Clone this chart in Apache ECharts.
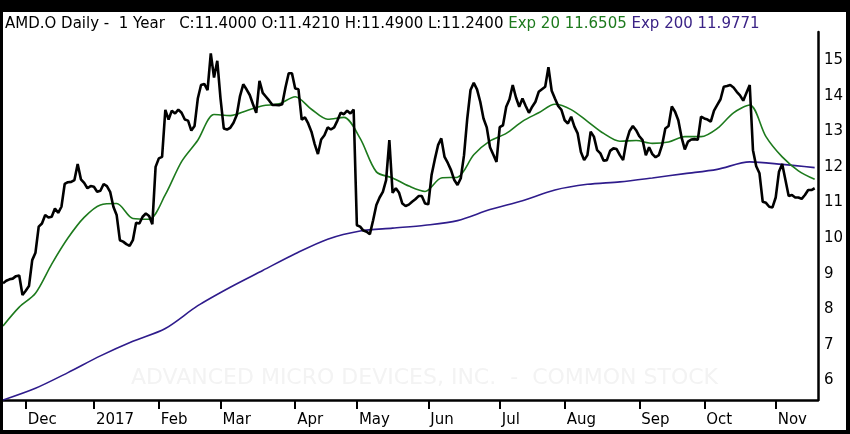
<!DOCTYPE html>
<html>
<head>
<meta charset="utf-8">
<script src="https://cdn.jsdelivr.net/npm/echarts@6/dist/echarts.min.js"></script>
<style>
html,body{margin:0;padding:0;background:#000;width:850px;height:434px;overflow:hidden;}
#chart{position:absolute;left:3px;top:12px;width:843px;height:418px;background:#fff;}
</style>
</head>
<body>
<div id="chart"></div>
<script>
// Trading calendar (month key + trading days)
const months = ['2016-11','2016-12','2017-01','2017-02','2017-03','2017-04','2017-05','2017-06','2017-07','2017-08','2017-09','2017-10','2017-11'];
const monthDays = [
  [21,22,23,25,28,29,30],
  [1,2,5,6,7,8,9,12,13,14,15,16,19,20,21,22,23,27,28,29,30],
  [3,4,5,6,9,10,11,12,13,17,18,19,20,23,24,25,26,27,30,31],
  [1,2,3,6,7,8,9,10,13,14,15,16,17,21,22,23,24,27,28],
  [1,2,3,6,7,8,9,10,13,14,15,16,17,20,21,22,23,24,27,28,29,30,31],
  [3,4,5,6,7,10,11,12,13,17,18,19,20,21,24,25,26,27,28],
  [1,2,3,4,5,8,9,10,11,12,15,16,17,18,19,22,23,24,25,26,30,31],
  [1,2,5,6,7,8,9,12,13,14,15,16,19,20,21,22,23,26,27,28,29,30],
  [3,5,6,7,10,11,12,13,14,17,18,19,20,21,24,25,26,27,28,31],
  [1,2,3,4,7,8,9,10,11,14,15,16,17,18,21,22,23,24,25,28,29,30,31],
  [1,5,6,7,8,11,12,13,14,15,18,19,20,21,22,25,26,27,28,29],
  [2,3,4,5,6,9,10,11,12,13,16,17,18,19,20,23,24,25,26,27,30,31],
  [1,2,3,6,7,8,9,10,13,14,15,16,17,20]
];
const monthTickLabels = ['', 'Dec', '2017', 'Feb', 'Mar', 'Apr', 'May', 'Jun', 'Jul', 'Aug', 'Sep', 'Oct', 'Nov'];

// Daily close
const close = [
  8.73,8.80,8.84,8.86,8.93,8.95,8.40,8.52,8.65,9.38,
  9.59,10.32,10.41,10.65,10.58,10.60,10.83,10.71,10.88,11.52,
  11.57,11.58,11.63,12.08,11.65,11.55,11.40,11.46,11.44,11.30,
  11.33,11.52,11.46,11.30,10.88,10.65,9.94,9.90,9.83,9.78,
  9.94,10.43,10.41,10.60,10.69,10.62,10.39,12.00,12.24,12.28,
  13.60,13.33,13.58,13.50,13.61,13.52,13.33,13.30,13.02,13.15,
  13.92,14.30,14.33,14.16,15.19,14.51,14.98,13.92,13.08,13.05,
  13.10,13.24,13.46,13.99,14.32,14.18,14.02,13.76,13.52,14.42,
  14.08,13.97,13.86,13.74,13.74,13.73,13.76,14.23,14.63,14.63,
  14.20,14.18,13.33,13.39,13.22,12.99,12.64,12.36,12.77,12.89,
  13.11,13.05,13.11,13.30,13.52,13.48,13.58,13.50,13.61,10.36,
  10.32,10.21,10.18,10.11,10.50,10.93,11.14,11.30,11.63,12.75,
  11.27,11.40,11.27,10.97,10.90,10.94,11.02,11.09,11.18,11.18,
  10.97,10.95,11.77,12.21,12.61,12.80,12.28,12.11,11.91,11.63,
  11.49,11.68,12.33,13.36,14.16,14.36,14.18,13.83,13.36,13.11,
  12.55,12.35,12.14,13.12,13.17,13.69,13.90,14.30,13.95,13.69,
  13.92,13.71,13.52,13.69,13.83,14.11,14.18,14.25,14.80,14.14,
  13.92,13.71,13.60,13.31,13.22,13.41,13.13,12.94,12.42,12.19,
  12.33,12.99,12.85,12.47,12.38,12.17,12.19,12.45,12.52,12.50,
  12.33,12.19,12.71,13.01,13.15,13.03,12.86,12.75,12.33,12.55,
  12.36,12.27,12.33,12.61,13.08,13.15,13.70,13.55,13.31,12.83,
  12.49,12.71,12.77,12.78,12.76,13.41,13.36,13.33,13.27,13.58,
  13.74,13.90,14.25,14.27,14.30,14.23,14.11,14.01,13.86,14.08,
  14.30,12.47,12.02,11.82,11.02,10.99,10.88,10.86,11.14,11.86,
  12.08,11.63,11.18,11.21,11.14,11.14,11.10,11.21,11.35,11.35,
  11.40
];

// Exponential moving averages (every ema20Step / ema200Step trading days)
const ema20Step = 5;
const ema20 = [
  7.53,8.06,8.45,9.27,10.00,10.58,10.93,10.97,10.55,10.53,
  11.22,12.15,12.75,13.47,13.44,13.58,13.72,13.77,13.97,13.62,
  13.34,13.39,12.80,11.86,11.69,11.46,11.31,11.69,11.71,12.34,
  12.73,12.94,13.28,13.52,13.76,13.61,13.28,12.94,12.72,12.74,
  12.66,12.70,12.85,12.85,13.08,13.52,13.74,12.85,12.28,11.89,
  11.65
];
const ema200Step = 10;
const ema200 = [
  5.45,5.78,6.22,6.69,7.10,7.46,8.10,8.62,9.09,9.56,
  9.97,10.20,10.28,10.36,10.49,10.80,11.05,11.35,11.51,11.58,
  11.69,11.81,11.93,12.14,12.07,11.98
];

const yTickValues = [6,7,8,9,10,11,12,13,14,15];
const headerMain = 'AMD.O Daily -  1 Year   C:11.4000 O:11.4210 H:11.4900 L:11.2400 ';
const headerEma20 = 'Exp 20 11.6505 ';
const headerEma200 = 'Exp 200 11.9771';
const watermark = 'ADVANCED MICRO DEVICES, INC.  -  COMMON STOCK';

// build categories
const categories = [];
const tickLabelAt = {};
months.forEach(function (m, mi) {
  monthDays[mi].forEach(function (d, di) {
    if (di === 0 && monthTickLabels[mi]) tickLabelAt[categories.length] = monthTickLabels[mi];
    categories.push(m + '-' + (d < 10 ? '0' + d : d));
  });
});
const isTick = function (idx) { return tickLabelAt[idx] !== undefined; };

const FONT = 'DejaVu Sans';
const GREEN = '#1d7a1d';
const PURPLE = '#2f1c8c';

const chart = echarts.init(document.getElementById('chart'), null, {renderer: 'canvas'});
chart.setOption({
  animation: false,
  backgroundColor: '#fff',
  title: {
    left: 2, top: 5, padding: 0,
    text: '{k|' + headerMain + '}{g|' + headerEma20 + '}{p|' + headerEma200 + '}',
    textStyle: {
      fontWeight: 'normal', fontFamily: FONT, fontSize: 15,
      rich: {
        k: {fontFamily: FONT, fontSize: 15, fontWeight: 'normal', color: '#000'},
        g: {fontFamily: FONT, fontSize: 15, fontWeight: 'normal', color: GREEN},
        p: {fontFamily: FONT, fontSize: 15, fontWeight: 'normal', color: '#3b2386'}
      }
    }
  },
  graphic: [{
    type: 'text', left: 'center', top: 355, silent: true, z: -1,
    style: {text: watermark, fontFamily: FONT, fontSize: 22, fill: '#f3f3f3'}
  }],
  grid: {left: 0, right: 25, top: 20, bottom: 30},
  xAxis: {
    type: 'category', data: categories, boundaryGap: false,
    axisLine: {lineStyle: {color: '#000', width: 2.5}},
    axisTick: {interval: function (i) { return isTick(i); }, length: 9, lineStyle: {color: '#000', width: 2}},
    axisLabel: {
      interval: function (i) { return isTick(i); },
      formatter: function (v, i) { return tickLabelAt[i] || ''; },
      align: 'left', padding: [0, 0, 0, 2], margin: 13,
      fontFamily: FONT, fontSize: 15, color: '#000'
    },
    splitLine: {show: false}
  },
  yAxis: {
    type: 'value', position: 'right', min: 5.45, max: 15.79,
    axisLine: {show: true, lineStyle: {color: '#000', width: 2.5}},
    axisTick: {show: false},
    splitLine: {show: false},
    axisLabel: {customValues: yTickValues, margin: 6, fontFamily: FONT, fontSize: 15, color: '#000'}
  },
  series: [
    {
      name: 'Exp 200', type: 'line', showSymbol: false, smooth: 0.3,
      data: ema200.map(function (v, i) { return [i * ema200Step, v]; }),
      lineStyle: {color: PURPLE, width: 1.6}
    },
    {
      name: 'Exp 20', type: 'line', showSymbol: false, smooth: 0.3,
      data: ema20.map(function (v, i) { return [i * ema20Step, v]; }),
      lineStyle: {color: GREEN, width: 1.6}
    },
    {
      name: 'AMD.O', type: 'line', showSymbol: false,
      data: close,
      lineStyle: {color: '#000', width: 2.6}
    }
  ]
});
</script>
</body>
</html>
